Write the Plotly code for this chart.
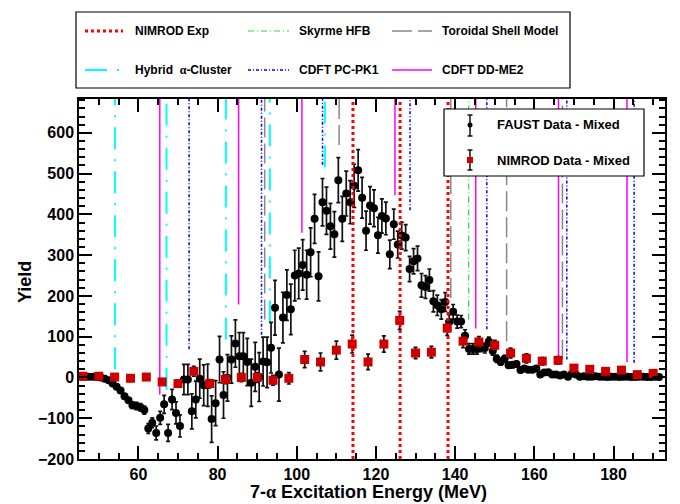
import numpy as np
import plotly.graph_objects as go

# ---------------------------------------------------------------- data
# FAUST 7-alpha excitation-energy yield, 1 MeV bins (centres 45.5 ... 191.5)
faust_e = np.arange(45.5, 192.0, 1.0)
faust_yield = [
    2, 2, 2, 2, 1, 0, -3, -7, -15, -23,
    -32, -46, -56, -68, -70, -73, -80, -125, -111, -136,
    -99, -66, -136, -54, -87, -119, -5, -5, -83, -54,
    -3, -19, -19, -102, -63, 44, -43, -1, 44, 83,
    52, 52, 38, -13, 26, 1, 39, 37, 73, 171,
    7, 147, 202, 167, 250, 255, 276, 252, 307, 389,
    248, 430, 409, 371, 351, 484, 389, 451, 430, 470,
    508, 441, 360, 422, 415, 349, 396, 390, 302, 376,
    326, 348, 343, 266, 285, 292, 226, 222, 239, 187,
    177, 167, 185, 136, 161, 137, 137, 102, 70, 70,
    70, 75, 72, 88, 65, 46, 38, 46, 30, 31,
    33, 18, 22, 19, 19, 22, 7, 12, 13, 7,
    7, 5, 7, 2, 10, 7, 2, 3, 2, 2,
    3, 2, 2, 1, 2, 2, 1, 2, 2, 1,
    1, 2, 2, 1, 1, 2, 1,
]
faust_err = [
    2, 2, 2, 2, 2, 2, 3, 3, 4, 4,
    4, 5, 6, 8, 9, 9, 10, 12, 12, 17,
    16, 22, 21, 25, 27, 27, 37, 37, 43, 45,
    48, 50, 52, 57, 55, 57, 57, 57, 58, 58,
    58, 58, 58, 58, 60, 60, 60, 62, 62, 67,
    65, 62, 62, 62, 62, 62, 62, 60, 60, 60,
    60, 58, 58, 56, 56, 55, 55, 55, 53, 53,
    51, 50, 48, 46, 45, 44, 42, 40, 35, 37,
    33, 33, 32, 31, 31, 30, 29, 28, 27, 26,
    25, 24, 23, 18, 18, 16, 15, 15, 13, 13,
    13, 12, 12, 11, 10, 9, 8, 8, 7, 7,
    6, 6, 6, 5, 5, 5, 5, 4, 4, 4,
    4, 4, 3, 3, 3, 3, 3, 3, 2, 2,
    2, 2, 2, 2, 2, 2, 2, 2, 2, 2,
    2, 2, 2, 2, 2, 2, 2,
]

# NIMROD yield, 4 MeV bins (centres 46 ... 190)
nimrod_e = np.arange(46, 191, 4)
nimrod_yield = [
    3, 3, 1, -2, 1, -11, -15, 15, -15, -5,
    0, 0, -7, -2, 44, 38, 67, 82, 38, 82,
    140, 60, 62, 121, 89, 87, 79, 60, 47, 40,
    42, 23, 20, 15, 18, 7, 10,
]
nimrod_err = [
    3, 3, 4, 4, 4, 6, 8, 12, 10, 10,
    10, 12, 12, 14, 20, 22, 22, 22, 19, 20,
    22, 14, 14, 18, 16, 13, 12, 12, 11, 9,
    9, 7, 6, 5, 5, 4, 4,
]

# State energies (MeV); *_low is the yield at which each marker line stops
nimrod_exp_e = [114.2, 126.1, 138.2]
skyrme_e = [143.4]
skyrme_low = [142]
toroidal_e = [91.9, 110.7, 138.9, 153.0, 167.1]
toroidal_low = [142, 570, 195, 89, 44]
hybrid_e = [54.1, 67.1, 82.1, 93.2, 107.1]
hybrid_low = [20, -30, 93, 135, 515]
pcpk1_e = [72.8, 91.1, 106.5, 128.6, 148.0, 168.2, 185.2]
pcpk1_low = [69, 105, 522, 410, 118, 44, 36]
ddme2_e = [65.4, 85.3, 101.3, 124.8, 145.2, 166.1, 183.4]
ddme2_low = [-42, 179, 355, 447, 120, 52, 38]

X_RANGE = [45, 193]
Y_RANGE = [-200, 683]

# ---------------------------------------------------------------- styles
FONT = "Liberation Sans"
RED = "#ff0000"
STYLES = {
    "nimrod_exp": dict(color=RED, width=3, dash="3px,3px"),
    "skyrme": dict(color="#33dd33", width=1.2, dash="6px,3px,1px,3px"),
    "toroidal": dict(color="#888888", width=1.5, dash="20px,6px"),
    "hybrid": dict(color="#00ffff", width=2, dash="22px,10px,2px,10px"),
    "pcpk1": dict(color="#0000ff", width=1.5, dash="3px,2px,1px,2px"),
    "ddme2": dict(color="#ff00ff", width=1.5, dash="solid"),
}

# figure geometry (pixels)
W, H = 680, 504
L, R, T, B = 79, 15, 99, 45
PW, PH = W - L - R, H - T - B


def px(x):
    return (x - L) / PW


def py(y):
    return (T + PH - y) / PH


def marker_lines(energies, lows):
    xs, ys = [], []
    for e, lo in zip(energies, lows):
        xs += [e, e, None]
        ys += [lo, Y_RANGE[1], None]
    return xs, ys


fig = go.Figure()

for key, (en, lo) in {
    "hybrid": (hybrid_e, hybrid_low),
    "skyrme": (skyrme_e, skyrme_low),
    "toroidal": (toroidal_e, toroidal_low),
    "pcpk1": (pcpk1_e, pcpk1_low),
    "ddme2": (ddme2_e, ddme2_low),
}.items():
    xs, ys = marker_lines(en, lo)
    fig.add_trace(go.Scatter(x=xs, y=ys, mode="lines", line=STYLES[key],
                             hoverinfo="skip", showlegend=False))

fig.add_trace(go.Scatter(
    x=faust_e, y=faust_yield, mode="markers",
    marker=dict(symbol="circle", size=8, color="black"),
    error_y=dict(type="data", array=faust_err, color="#111111",
                 thickness=1.7, width=2),
    showlegend=False, name="FAUST Data - Mixed"))

fig.add_trace(go.Scatter(
    x=nimrod_e, y=nimrod_yield, mode="markers",
    marker=dict(symbol="square", size=9, color="#cc0000"),
    error_y=dict(type="data", array=nimrod_err, color="#111111",
                 thickness=1.7, width=2),
    showlegend=False, name="NIMROD Data - Mixed"))

xs, ys = marker_lines(nimrod_exp_e, [Y_RANGE[0]] * len(nimrod_exp_e))
fig.add_trace(go.Scatter(x=xs, y=ys, mode="lines", line=STYLES["nimrod_exp"],
                         hoverinfo="skip", showlegend=False))

shapes = []
annotations = []

# ---------------------------------------------------------------- model legend
shapes.append(dict(type="rect", xref="paper", yref="paper",
                   x0=px(76), x1=px(570), y0=py(88), y1=py(12),
                   line=dict(color="black", width=1.2), fillcolor="white",
                   layer="above"))
model_legend = [
    ("nimrod_exp", "NIMROD Exp", 85, 123, 133, 31),
    ("skyrme", "Skyrme HFB", 248, 289, 297, 31),
    ("toroidal", "Toroidal Shell Model", 392, 432, 440, 31),
    ("hybrid", "Hybrid  <span style='font-family:Liberation Serif'>α</span>-Cluster",
     85, 123, 133, 70),
    ("pcpk1", "CDFT PC-PK1", 248, 289, 297, 70),
    ("ddme2", "CDFT DD-ME2", 392, 432, 440, 70),
]
for key, label, xa, xb, xt, yy in model_legend:
    shapes.append(dict(type="line", xref="paper", yref="paper",
                       x0=px(xa), x1=px(xb), y0=py(yy), y1=py(yy),
                       line=STYLES[key], layer="above"))
    annotations.append(dict(xref="paper", yref="paper", x=px(xt), y=py(yy),
                            xanchor="left", yanchor="middle", showarrow=False,
                            text=label,
                            font=dict(family=FONT, size=12, color="black",
                                      weight="bold")))

# ---------------------------------------------------------------- data legend
shapes.append(dict(type="rect", xref="paper", yref="paper",
                   x0=px(444), x1=px(644), y0=py(176), y1=py(109),
                   line=dict(color="black", width=1.2), fillcolor="white",
                   layer="above"))
for y0, y1 in [(115, 136), (150, 170)]:
    shapes.append(dict(type="line", xref="paper", yref="paper",
                       x0=px(470), x1=px(470), y0=py(y0), y1=py(y1),
                       line=dict(color="#111111", width=1.5), layer="above"))
    for yc in (y0, y1):
        shapes.append(dict(type="line", xref="paper", yref="paper",
                           x0=px(467.5), x1=px(472.5), y0=py(yc), y1=py(yc),
                           line=dict(color="#111111", width=1.5), layer="above"))
shapes.append(dict(type="circle", xref="paper", yref="paper",
                   x0=px(467.5), x1=px(472.5), y0=py(127.5), y1=py(122.5),
                   line=dict(color="black", width=0), fillcolor="black",
                   layer="above"))
shapes.append(dict(type="rect", xref="paper", yref="paper",
                   x0=px(467), x1=px(473), y0=py(163), y1=py(157),
                   line=dict(color="#cc0000", width=0), fillcolor="#cc0000",
                   layer="above"))
for label, yy in [("FAUST Data - Mixed", 125), ("NIMROD Data - Mixed", 160)]:
    annotations.append(dict(xref="paper", yref="paper", x=px(495), y=py(yy),
                            xanchor="left", yanchor="middle", showarrow=False,
                            text=label,
                            font=dict(family=FONT, size=13, color="black",
                                      weight="bold")))

# ---------------------------------------------------------------- axis titles
annotations.append(dict(xref="paper", yref="paper", x=px(368), y=py(492),
                        xanchor="center", yanchor="middle", showarrow=False,
                        text="7-<span style='font-family:Liberation Serif'>α</span>"
                             " Excitation Energy (MeV)",
                        font=dict(family=FONT, size=18, color="black",
                                  weight="bold")))
annotations.append(dict(xref="paper", yref="paper", x=px(25), y=py(282),
                        xanchor="center", yanchor="middle", showarrow=False,
                        text="Yield", textangle=-90,
                        font=dict(family=FONT, size=18, color="black",
                                  weight="bold")))

axis_common = dict(
    showline=True, linecolor="black", linewidth=1.5, mirror="ticks",
    ticks="inside", ticklen=13, tickwidth=2, tickcolor="black",
    showgrid=False, zeroline=False,
    tickfont=dict(family=FONT, size=16, color="black", weight="bold"),
)

fig.update_layout(
    width=W, height=H,
    margin=dict(l=L, r=R, t=T, b=B),
    paper_bgcolor="white", plot_bgcolor="white",
    showlegend=False,
    shapes=shapes, annotations=annotations,
    xaxis=dict(range=X_RANGE, dtick=20, tick0=0,
               minor=dict(ticks="inside", ticklen=6, tickwidth=1.5,
                          tickcolor="black", dtick=5, tick0=0),
               **axis_common),
    yaxis=dict(range=Y_RANGE, dtick=100, tick0=0,
               minor=dict(ticks="inside", ticklen=6, tickwidth=1.5,
                          tickcolor="black", dtick=20, tick0=0),
               **axis_common),
)

fig.write_html("out.html")
